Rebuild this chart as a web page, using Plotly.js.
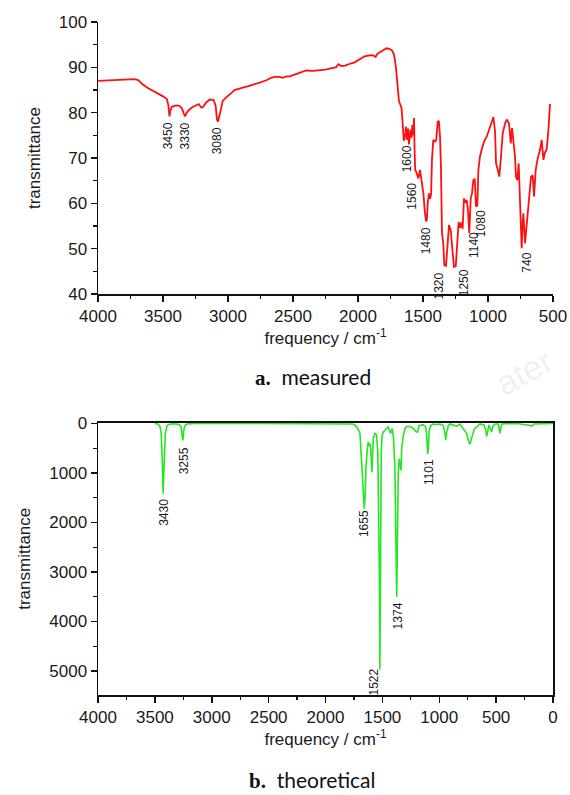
<!DOCTYPE html>
<html>
<head>
<meta charset="utf-8">
<script src="https://cdn.plot.ly/plotly-3.0.1.min.js"></script>
<style>html,body{margin:0;padding:0;background:#fff;}#chart{width:570px;height:795px;}</style>
</head>
<body>
<div id="chart"></div>
<script>
// ---- measured spectrum (panel a) ----
const measFreq = [4000,3900,3800,3720,3690,3660,3620,3580,3540,3500,3470,3458,3450,3443,3432,3400,3375,3355,3340,3330,3320,3300,3275,3250,3225,3205,3190,3170,3140,3110,3095,3085,3078,3070,3055,3040,3020,3000,2975,2950,2920,2900,2850,2800,2750,2700,2670,2640,2600,2580,2550,2520,2500,2450,2400,2350,2300,2250,2200,2170,2150,2130,2100,2070,2050,2025,2000,1975,1950,1920,1900,1880,1865,1850,1820,1800,1780,1760,1740,1725,1715,1705,1695,1685,1675,1665,1655,1648,1640,1630,1622,1614,1608,1600,1595,1588,1582,1575,1569,1565,1560,1548,1536,1523,1510,1497,1485,1476,1470,1464,1454,1446,1438,1431,1421,1408,1398,1387,1378,1375,1369,1362,1354,1344,1336,1323,1313,1300,1287,1274,1262,1248,1236,1226,1215,1205,1195,1185,1174,1164,1154,1144,1133,1123,1113,1102,1092,1082,1074,1062,1049,1031,1010,985,959,946,938,925,913,900,887,869,856,838,825,815,805,792,785,775,764,751,741,735,728,715,703,682,669,656,646,633,618,600,587,574,562,549,536,523];
const measT = [87.0,87.1,87.3,87.4,87.2,86.3,85.5,84.9,84.2,83.6,83.0,81.5,79.2,80.5,81.3,81.6,81.5,81.0,79.8,79.2,79.9,80.6,81.2,81.6,81.9,81.1,81.3,82.2,82.9,82.8,81.5,78.5,78.0,78.8,81.0,82.6,83.2,83.6,84.3,85.0,85.3,85.4,85.8,86.2,86.7,87.2,87.7,87.9,87.9,87.7,88.0,88.0,88.3,88.8,89.3,89.2,89.3,89.5,89.8,90.0,90.7,90.3,90.4,90.6,90.9,91.1,91.6,92.0,92.4,92.6,92.7,92.6,92.3,93.0,93.6,94.0,94.2,94.1,93.8,93.0,91.5,89.0,85.5,82.5,81.8,81.0,77.0,73.8,74.5,76.9,74.0,76.5,73.0,75.5,76.2,74.5,77.3,75.0,78.8,72.0,67.4,66.6,65.5,67.4,65.0,62.2,57.8,56.0,56.5,60.0,62.2,61.0,62.0,69.6,74.0,73.6,74.0,78.0,78.2,77.0,74.7,68.1,53.5,51.2,46.4,46.2,50.4,55.2,54.1,50.4,46.0,46.1,52.6,55.9,54.6,55.8,54.4,61.1,60.2,60.7,58.5,53.4,61.1,62.2,65.1,65.4,59.3,59.5,67.4,70.3,71.8,73.6,74.7,76.9,79.0,76.0,68.8,67.4,65.9,70.3,75.4,77.6,78.5,77.6,73.2,76.6,74.3,70.3,65.9,65.1,68.8,57.8,50.1,54.5,57.8,51.2,55.0,61.5,65.9,66.2,61.5,67.4,69.9,71.8,74.0,69.6,71.2,71.8,75.9,81.9];
const measLabels = ['3450','3330','3080','1600','1560','1480','1320','1250','1140','1080','740'];
const measLabelX = [3462,3331,3085,1625,1585,1479,1377,1185,1108,1048,702];
const measLabelY = [78.4,78.4,77.3,73.3,65.1,55.2,45.3,46.0,54.1,59.0,49.5];

// ---- theoretical spectrum (panel b) ----
const theoFreq = [3500,3470,3455,3445,3437,3431,3427,3423,3417,3408,3395,3380,3340,3290,3270,3262,3257,3255,3252,3246,3238,3220,3150,2600,1800,1760,1735,1715,1697,1682,1668,1659,1650,1644,1632,1624,1615,1606,1598,1592,1587,1580,1565,1551,1540,1533,1527,1522,1518,1514,1510,1503,1493,1480,1465,1451,1437,1429,1414,1402,1390,1383,1378,1374,1370,1365,1360,1352,1343,1336,1330,1316,1301,1287,1257,1228,1204,1190,1178,1160,1140,1120,1110,1102,1096,1089,1075,1054,1024,993,965,950,943,936,920,906,847,818,789,760,740,729,716,706,690,671,642,607,590,583,575,563,548,540,530,510,481,472,466,460,451,420,300,200,187,170,143,100,0];
const theoInt = [0,15,60,200,600,1100,1418,1100,600,200,60,20,5,15,60,180,320,343,300,150,50,10,0,0,0,10,40,110,202,875,1411,1720,1400,847,510,371,450,415,700,982,700,302,200,230,600,1500,3000,4966,3500,1800,600,250,175,140,100,70,140,200,100,300,900,1800,3000,3501,2800,1600,980,712,914,948,500,245,100,60,60,100,165,175,40,30,28,60,250,612,500,150,40,10,20,10,40,200,329,200,40,10,54,10,100,200,380,417,300,200,100,67,10,30,150,262,150,30,120,168,60,10,10,100,200,100,10,5,5,40,54,10,10,0,0];
const theoLabels = ['3430','3255','1655','1522','1374','1101'];
const theoLabelX = [3426,3241,1659,1571,1365,1090];
const theoLabelY = [1486,444,1714,4913,3569,679];

const axisFont = {family:'Liberation Sans, Arial, sans-serif', size:17, color:'#1a1a1a'};
const labFont = {family:'Liberation Sans, Arial, sans-serif', size:12, color:'#1a1a1a'};

const traces = [
  {x:measFreq, y:measT, type:'scatter', mode:'lines', line:{color:'#ff1010', width:1.8}, xaxis:'x', yaxis:'y', hoverinfo:'skip'},
  {x:theoFreq, y:theoInt, type:'scatter', mode:'lines', line:{color:'#22e822', width:1.6}, xaxis:'x2', yaxis:'y2', hoverinfo:'skip'}
];

const annotations = [];
measLabels.forEach((t,i)=>annotations.push({x:measLabelX[i], y:measLabelY[i], xref:'x', yref:'y', text:t, showarrow:false, textangle:-90, xanchor:'center', yanchor:'top', font:labFont}));
theoLabels.forEach((t,i)=>annotations.push({x:theoLabelX[i], y:theoLabelY[i], xref:'x2', yref:'y2', text:t, showarrow:false, textangle:-90, xanchor:'center', yanchor:'top', font:labFont}));

const capFont = {family:'Lato, Open Sans, sans-serif', size:21, color:'#111'};
annotations.push({xref:'paper', yref:'paper', x:0.4725, y:(695-377)/673, text:'<b style="font-family:Liberation Serif">a.</b>  measured', showarrow:false, xanchor:'center', yanchor:'middle', font:capFont});
annotations.push({xref:'paper', yref:'paper', x:0.4725, y:(695-780)/673, text:'<b style="font-family:Liberation Serif">b.</b>  theoretical', showarrow:false, xanchor:'center', yanchor:'middle', font:capFont});
annotations.push({xref:'paper', yref:'paper', x:1.02, y:(695-372)/673, text:'ater', showarrow:false, xanchor:'right', yanchor:'middle', textangle:-28, font:{family:'Liberation Sans, Arial, sans-serif', size:34, color:'rgba(0,0,0,0.07)'}});

const baseX = {
  showline:true, linecolor:'#111', linewidth:1.5, ticks:'outside', ticklen:6, tickwidth:1.5, tickcolor:'#111',
  showgrid:false, zeroline:false, tickfont:axisFont, dtick:500,
  minor:{ticks:'outside', ticklen:3.5, tickwidth:1.2, tickcolor:'#111', dtick:250, showgrid:false}
};

const layout = {
  width:570, height:795,
  margin:{l:98, r:17, t:22, b:100},
  paper_bgcolor:'#fff', plot_bgcolor:'#fff',
  showlegend:false,
  xaxis: Object.assign({}, baseX, {domain:[0,1], range:[4000,500], anchor:'y',
    title:{text:'frequency / cm<sup>-1</sup>', font:axisFont, standoff:2}}),
  yaxis: Object.assign({}, baseX, {domain:[0.5958,1], range:[40,100], dtick:10, anchor:'x',
    minor:{ticks:'outside', ticklen:3.5, tickwidth:1.2, tickcolor:'#111', dtick:5, showgrid:false},
    title:{text:'transmittance', font:axisFont, standoff:14}}),
  xaxis2: Object.assign({}, baseX, {domain:[0,1], range:[4000,0], anchor:'y2', mirror:true,
    title:{text:'frequency / cm<sup>-1</sup>', font:axisFont, standoff:4}}),
  yaxis2: Object.assign({}, baseX, {domain:[0,0.4049], range:[5485,-20], dtick:1000, tick0:0, anchor:'x2', mirror:true,
    minor:{ticks:'outside', ticklen:3.5, tickwidth:1.2, tickcolor:'#111', dtick:500, showgrid:false},
    title:{text:'transmittance', font:axisFont, standoff:14}}),
  annotations: annotations
};

Plotly.newPlot('chart', traces, layout, {displayModeBar:false, staticPlot:true});
</script>
</body>
</html>
